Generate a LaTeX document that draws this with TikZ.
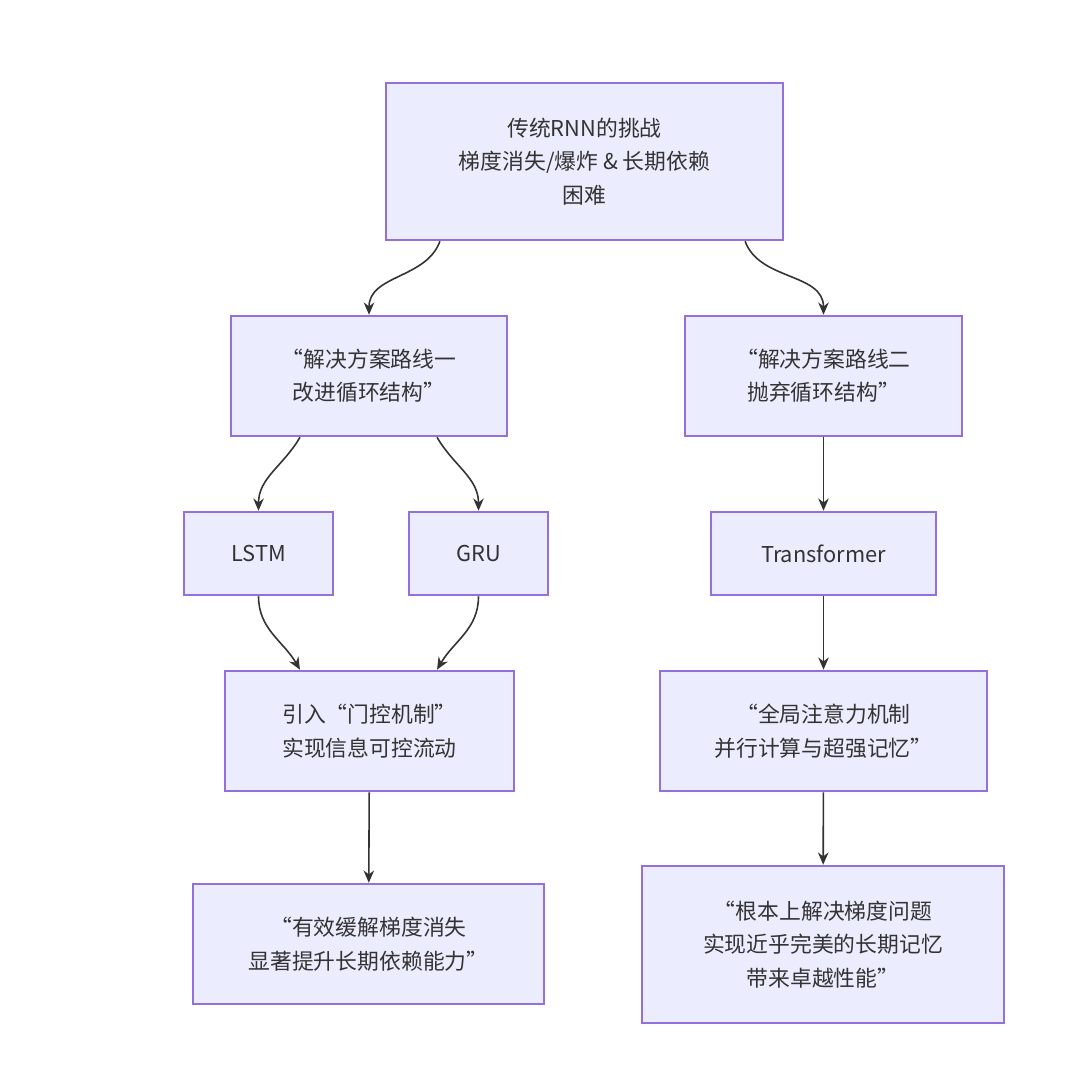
\documentclass[tikz,border=0pt]{standalone}
\usepackage{fontspec}
\setmainfont{Noto Sans CJK SC}
\usetikzlibrary{arrows.meta}
\definecolor{boxfill}{HTML}{ECECFF}
\definecolor{boxline}{HTML}{9370DB}
\definecolor{txt}{HTML}{333333}
\tikzset{
  box/.style={draw=boxline,fill=boxfill,line width=0.7pt,align=center,
    text=txt,font=\fontsize{6.2}{9.5}\selectfont,inner sep=0pt},
  link/.style={draw=txt,line width=0.45pt,-{Stealth[length=3.5pt,width=3pt]}},
}
\begin{document}
\begin{tikzpicture}[x=0.01cm,y=-0.01cm]
\useasboundingbox (0,0) rectangle (1080,1082);
% top
\node[box,minimum width=3.97cm,minimum height=1.57cm] (rnn) at (584.5,161.5) {传统RNN的挑战\\梯度消失/爆炸 \& 长期依赖\\困难};
% first level
\node[box,minimum width=2.76cm,minimum height=1.2cm] (way1) at (369,376) {“解决方案路线一\\改进循环结构”};
\node[box,minimum width=2.77cm,minimum height=1.2cm] (way2) at (823.5,376) {“解决方案路线二\\抛弃循环结构”};
% models
\node[box,minimum width=1.49cm,minimum height=0.83cm] (lstm) at (258.5,553.5) {LSTM};
\node[box,minimum width=1.39cm,minimum height=0.83cm] (gru) at (478.5,553.5) {GRU};
\node[box,minimum width=2.25cm,minimum height=0.83cm] (trans) at (823.5,553.5) {Transformer};
% mechanisms
\node[box,minimum width=2.89cm,minimum height=1.2cm] (gate) at (369.5,731) {引入“门控机制”\\实现信息可控流动};
\node[box,minimum width=3.27cm,minimum height=1.2cm] (attn) at (823.5,731) {“全局注意力机制\\并行计算与超强记忆”};
% results
\node[box,minimum width=3.51cm,minimum height=1.2cm] (res1) at (368.5,944) {“有效缓解梯度消失\\显著提升长期依赖能力”};
\node[box,minimum width=3.62cm,minimum height=1.57cm] (res2) at (823,944.5) {“根本上解决梯度问题\\实现近乎完美的长期记忆\\带来卓越性能”};
% connectors
\draw[link] ([xshift=-1.445cm]rnn.south) to[out=-110,in=90] (way1.north);
\draw[link] ([xshift=1.605cm]rnn.south) to[out=-70,in=90] (way2.north);
\draw[link] ([xshift=-0.69cm]way1.south) to[out=-120,in=90] (lstm.north);
\draw[link] ([xshift=0.68cm]way1.south) to[out=-60,in=90] (gru.north);
\draw[link] (way2) -- (trans);
\draw[link] (lstm.south) to[out=-90,in=120] ([xshift=-0.695cm]gate.north);
\draw[link] (gru.south) to[out=-90,in=60] ([xshift=0.675cm]gate.north);
\draw[link] (trans) -- (attn);
\draw[link] (gate) -- (res1);
\draw[link] (attn) -- (res2);
\end{tikzpicture}
\end{document}
